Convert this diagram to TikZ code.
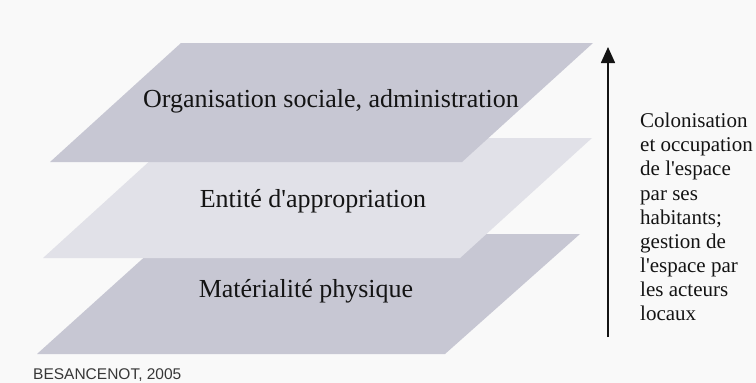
\documentclass[tikz,border=0pt]{standalone}
\usepackage{fontspec}
\setmainfont{Liberation Serif}
\newfontfamily\creditfont{Liberation Sans}
\usetikzlibrary{arrows.meta}
\definecolor{Bg}{RGB}{249,249,249}
\definecolor{P1}{RGB}{199,199,211}
\definecolor{P2}{RGB}{225,225,232}
\definecolor{Txt}{RGB}{20,20,20}
\newcommand{\apos}{\textquotesingle}
\tikzset{plane/.style={draw=none},
         planelabel/.style={anchor=base, inner sep=0pt, text=Txt, font=\fontsize{26}{28}\selectfont}}

\begin{document}
\begin{tikzpicture}[x=1pt, y=-1pt]
      \fill[Bg] (0,0) rectangle (756,383);
      \useasboundingbox (0,0) rectangle (756,383);
      % planes, back to front
      \fill[P1, plane] (37,354) -- (445,354) -- (580,234) -- (170,234) -- cycle;
      \fill[P2, plane] (43,258) -- (460,258) -- (592,138) -- (175,138) -- cycle;
      \fill[P1, plane] (50,162) -- (462,162) -- (593,43) -- (181,43) -- cycle;
      \node[planelabel] (orga) at (331,107) {Organisation sociale, administration};
      \node[planelabel] (entite) at (313,207) {Entit\'e d\apos appropriation};
      \node[planelabel] (materia) at (306,297) {Mat\'erialit\'e physique};
      % arrow and its text
      \coordinate (arrowfoot) at (608,337);
      \coordinate (arrowtip) at (608,47);
      \draw[line width=1.6pt, Txt, -{Triangle[width=14pt, length=16pt]}] (arrowfoot) -- (arrowtip);
      \node[anchor=north west, inner sep=0pt, align=left, text=Txt,
            font=\fontsize{21}{24.1}\selectfont] (colon) at (640,113)
            {Colonisation\\et occupation\\de l\apos espace\\par ses\\habitants;\\gestion de\\l\apos espace par\\les acteurs\\locaux};
      \node[anchor=base west, inner sep=0pt, text={rgb,255:red,55;green,55;blue,55},
            font=\creditfont\fontsize{15.5}{17}\selectfont] (credit) at (33,379) {BESANCENOT, 2005};
    \end{tikzpicture}
\end{document}
